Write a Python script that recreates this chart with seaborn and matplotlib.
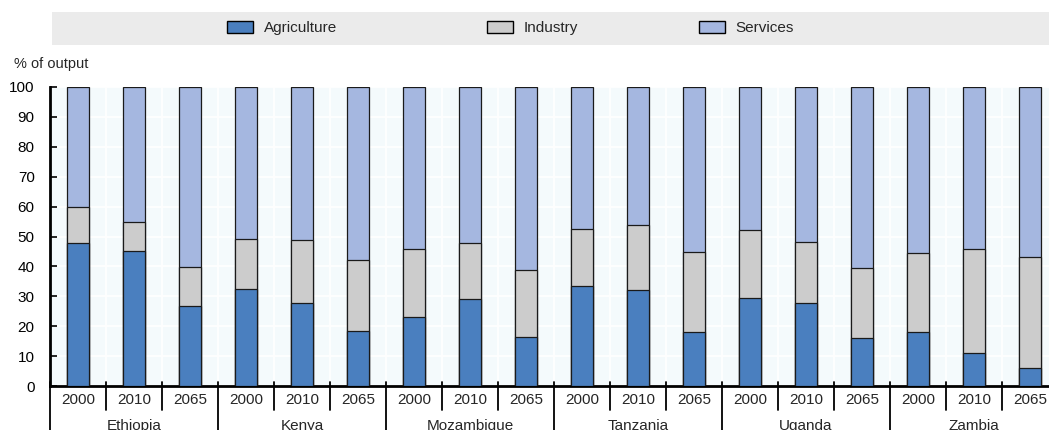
import pandas as pd
import numpy as np
import matplotlib.pyplot as plt
import matplotlib.patches as mpatches
import matplotlib.transforms as mtransforms
import seaborn as sns

# ----------------------------
# Data
# ----------------------------
countries = ['Ethiopia', 'Kenya', 'Mozambique', 'Tanzania', 'Uganda', 'Zambia']
years = ['2000', '2010', '2065']

agriculture = [47.7, 45.0, 26.7,
               32.3, 27.9, 18.4,
               23.0, 29.0, 16.4,
               33.3, 32.0, 18.0,
               29.3, 27.9, 15.9,
               18.2, 10.9, 6.1]
industry = [12.3, 10.0, 13.2,
            16.9, 21.0, 23.8,
            22.9, 18.9, 22.4,
            19.3, 22.0, 26.7,
            22.9, 20.1, 23.4,
            26.4, 35.0, 37.0]
services = [100 - a - i for a, i in zip(agriculture, industry)]

df = pd.DataFrame({
    'country': np.repeat(countries, len(years)),
    'year': years * len(countries),
    'Agriculture': agriculture,
    'Industry': industry,
    'Services': services,
})
df['label'] = df['country'] + ' ' + df['year']
df['agri_top'] = df['Agriculture']
df['ind_top'] = df['Agriculture'] + df['Industry']
df['serv_top'] = df['ind_top'] + df['Services']

col_agri = '#4A7FBF'
col_ind = '#CCCCCC'
col_serv = '#A5B7E0'

# ----------------------------
# Style
# ----------------------------
sns.set_style('white', {'axes.facecolor': '#F4FAFC'})
plt.rcParams['font.family'] = ['Liberation Sans Narrow', 'Liberation Sans', 'DejaVu Sans']
plt.rcParams['font.size'] = 11

fig = plt.figure(figsize=(10.49, 4.30), dpi=100)
# the plot runs a little past the right edge of the picture, as in the reference
ax = fig.add_axes([50 / 1049, 44 / 430, 1008 / 1049, 299 / 430])

order = list(df['label'])
for col, c in [('serv_top', col_serv), ('ind_top', col_ind), ('agri_top', col_agri)]:
    sns.barplot(data=df, x='label', y=col, order=order, color=c, width=0.4,
                edgecolor='#1a1a1a', linewidth=0.9, saturation=1, ax=ax, zorder=3)

n = len(order)
ax.set_xlim(-0.5, n - 0.5)
ax.set_ylim(0, 100)
ax.set_yticks(range(0, 101, 10))
ax.set_xticks(range(n))
ax.set_xticklabels(df['year'])
ax.set_xlabel('')
ax.set_ylabel('')

# grid
ax.set_xticks(np.arange(-0.5, n, 1), minor=True)
ax.grid(axis='y', which='major', color='white', linewidth=1.2, zorder=0)
ax.grid(axis='x', which='minor', color='white', linewidth=1.2, zorder=0)
ax.set_axisbelow(True)

ax.tick_params(axis='y', direction='in', length=5, width=1.2, pad=11, labelsize=11, colors='black', left=True)
ax.tick_params(axis='x', which='major', length=0, pad=5, labelsize=11)
ax.tick_params(axis='x', which='minor', length=0)

for s in ['top', 'right']:
    ax.spines[s].set_visible(False)
for s in ['left', 'bottom']:
    ax.spines[s].set_linewidth(2)
    ax.spines[s].set_color('black')

# category separators below the axis
trans = mtransforms.blended_transform_factory(ax.transData, ax.transAxes)
px = 1 / 299
for k in range(n + 1):
    xpos = k - 0.5
    if k % len(years) == 0:
        ax.plot([xpos, xpos], [4 * px, -50 * px], transform=trans, color='black',
                linewidth=1.3, clip_on=False, zorder=5)
    else:
        ax.plot([xpos, xpos], [4 * px, -24 * px], transform=trans, color='black',
                linewidth=1.3, clip_on=False, zorder=5)

for g, name in enumerate(countries):
    xc = g * len(years) + (len(years) - 1) / 2
    ax.annotate(name, xy=(xc, 0), xycoords=trans, xytext=(0, -28.5),
                textcoords='offset points', ha='center', va='center', fontsize=11)

# y unit label
fig.text(14 / 1049, 1 - 64 / 430, '% of output', ha='left', va='center', fontsize=10.5)

# legend band
fig.patches.append(mpatches.Rectangle((52 / 1049, 1 - 45 / 430), 1 - 52 / 1049, 33 / 430,
                                      transform=fig.transFigure, facecolor='#EBEBEB',
                                      edgecolor='none', zorder=0))
legend_items = [('Agriculture', col_agri, 227), ('Industry', col_ind, 487), ('Services', col_serv, 699)]
for name, c, xpx in legend_items:
    h = mpatches.Patch(facecolor=c, edgecolor='black', linewidth=1, label=name)
    fig.legend(handles=[h], loc='center left', bbox_to_anchor=(xpx / 1049, 1 - 28 / 430),
               frameon=False, handlelength=1.7, handleheight=0.8, handletextpad=0.7,
               borderpad=0, borderaxespad=0, fontsize=11)

fig.savefig('out.png', dpi=100)
